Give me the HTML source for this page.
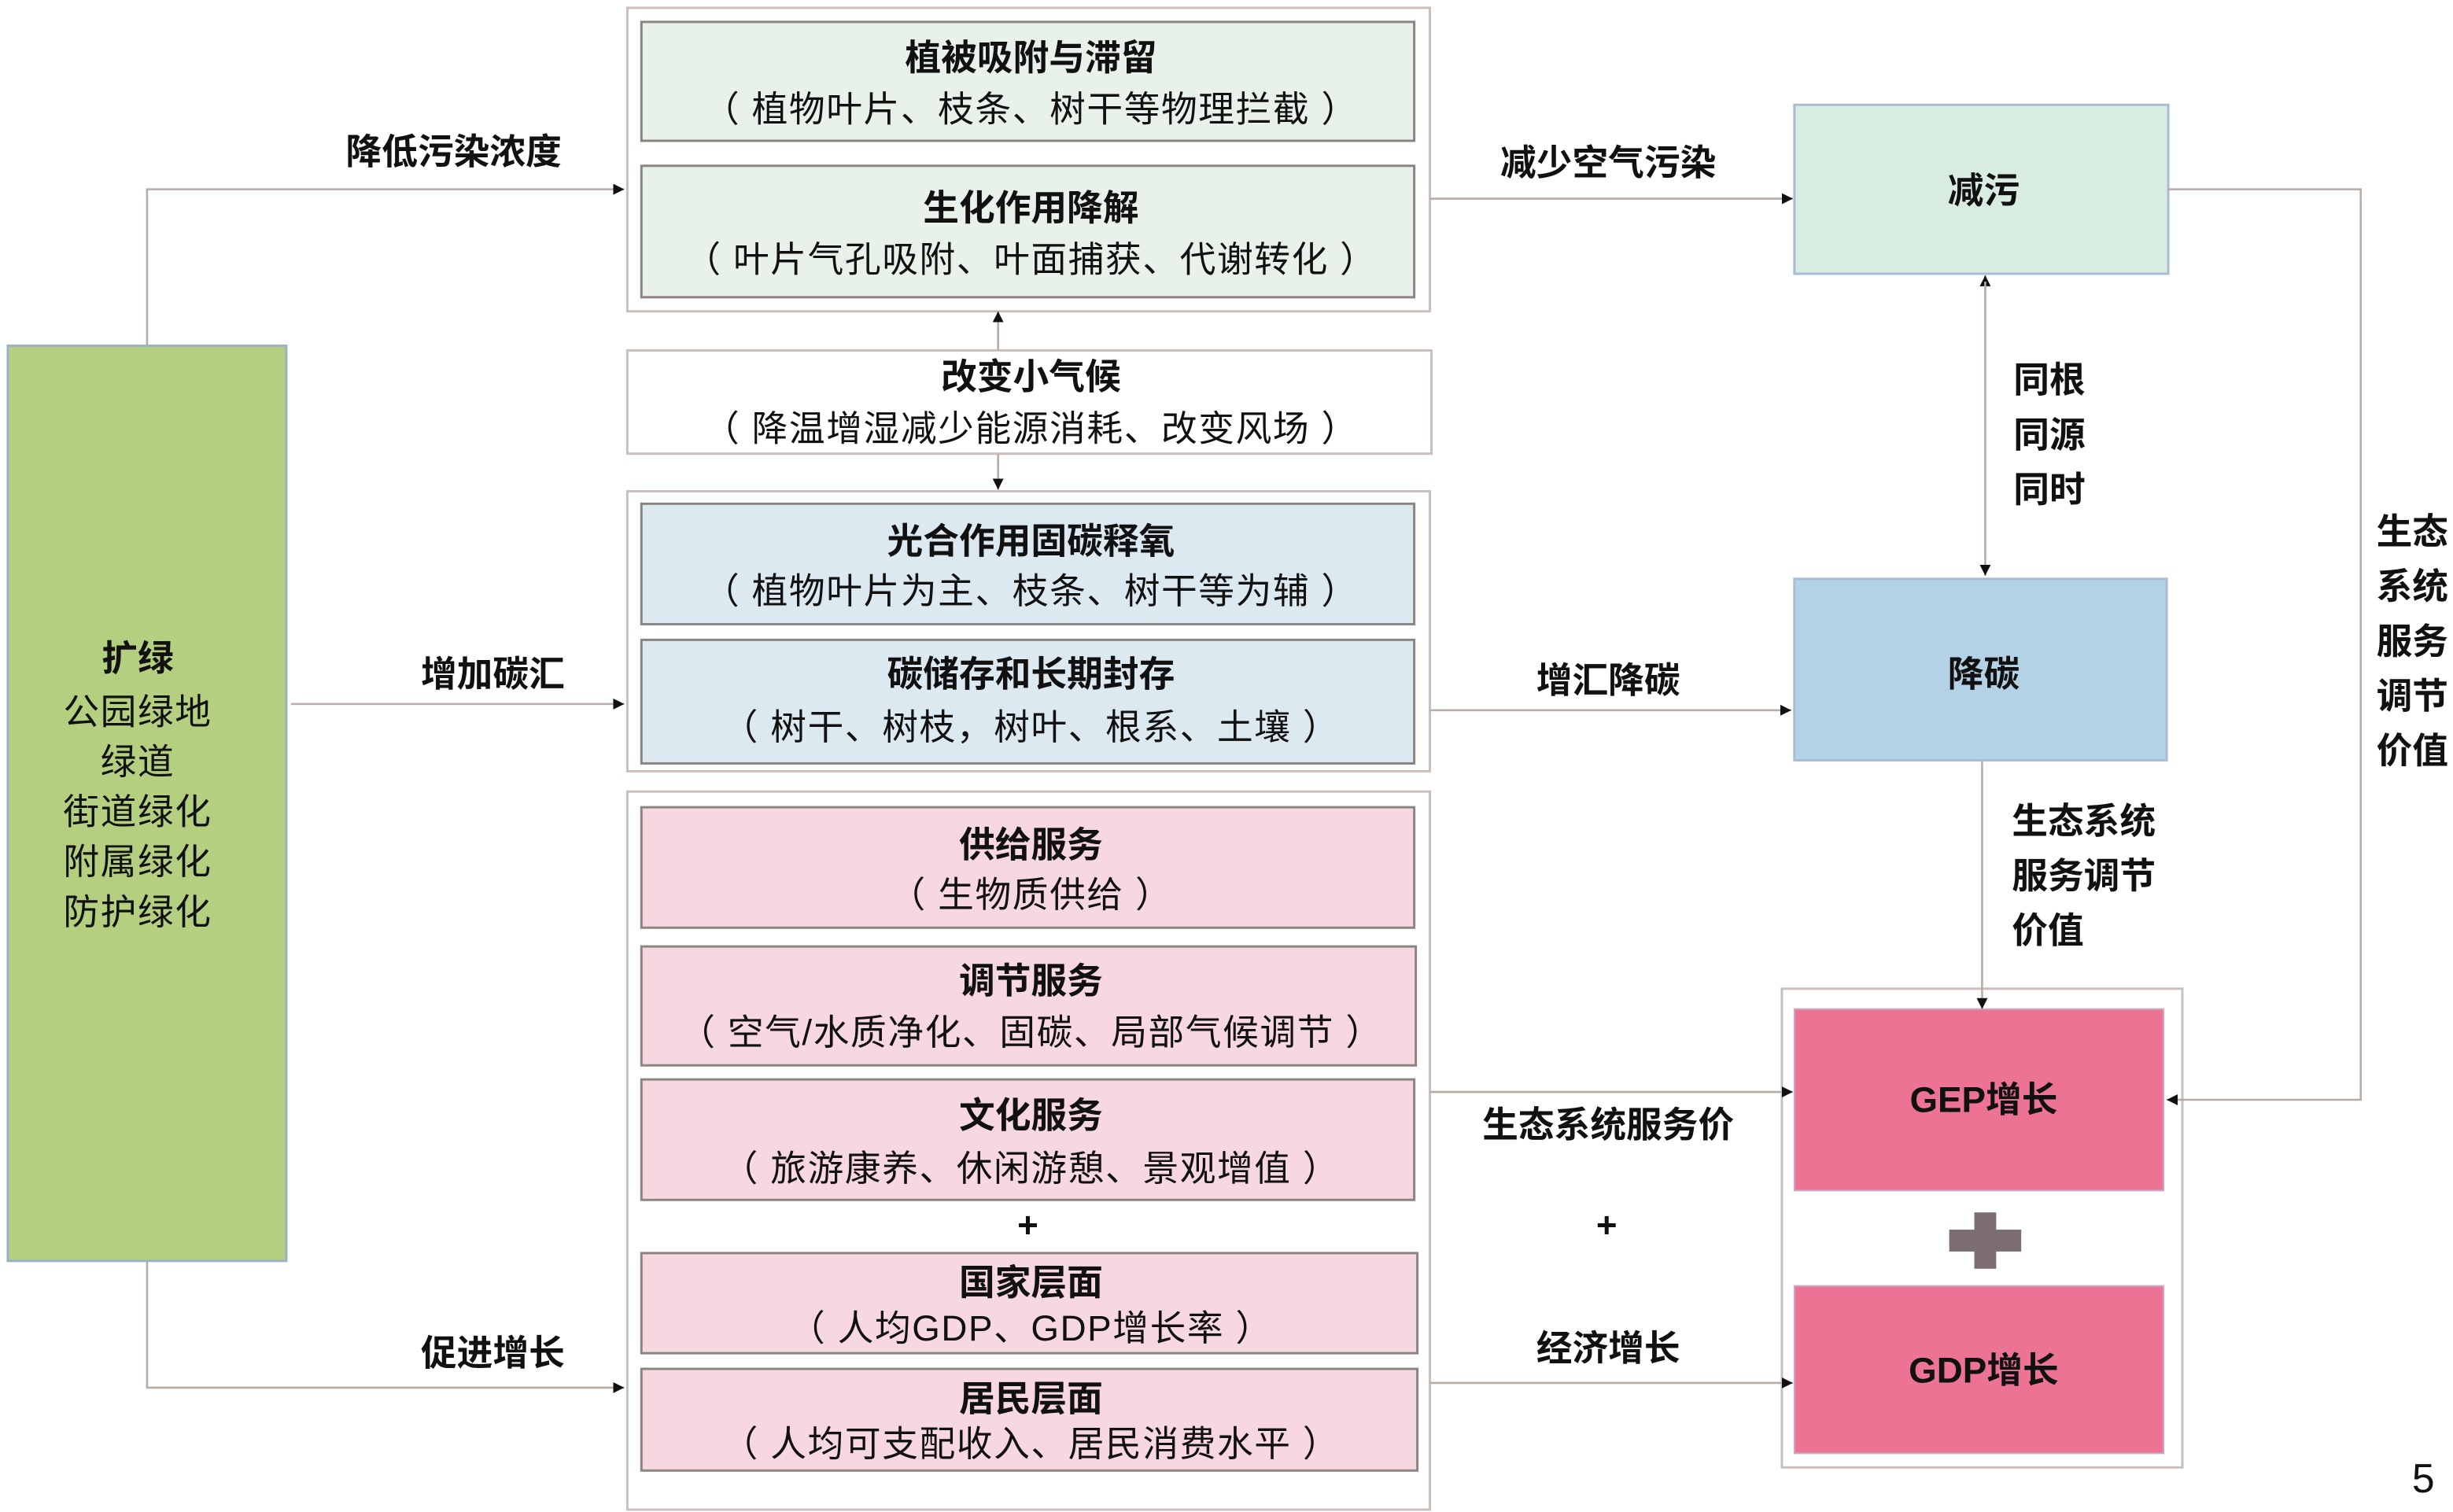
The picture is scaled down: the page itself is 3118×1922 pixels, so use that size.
<!DOCTYPE html>
<html><head><meta charset="utf-8"><style>
html,body{margin:0;padding:0;background:#fff;width:3118px;height:1922px;overflow:hidden}
svg{display:block}
text{font-family:"Liberation Sans","Noto Sans CJK SC",sans-serif;fill:#111;dominant-baseline:central;text-anchor:middle}
.b{font-weight:bold;font-size:23px}
.n{font-size:23px;letter-spacing:0.8px}
.l{font-weight:bold;font-size:23px}
</style></head><body>
<svg width="3118" height="1922" viewBox="0 0 1568 966.5" preserveAspectRatio="none" xmlns="http://www.w3.org/2000/svg">
<defs><marker id="a" markerWidth="8" markerHeight="8" refX="7" refY="4" orient="auto" markerUnits="userSpaceOnUse"><path d="M0,0.5 L7,4 L0,7.5z" fill="#111"/></marker></defs>
<!-- green -->
<rect x="5" y="221" width="178" height="585" fill="#b4cf80" stroke="#9cb0c8" stroke-width="1.5"/>
<text x="88" y="421" class="b">扩绿</text>
<text x="88" y="455" class="n">公园绿地</text>
<text x="88" y="487" class="n">绿道</text>
<text x="88" y="519" class="n">街道绿化</text>
<text x="88" y="551" class="n">附属绿化</text>
<text x="88" y="583" class="n">防护绿化</text>
<g stroke="#c9c0bb" stroke-width="1.5" fill="#fff">
<rect x="401" y="5" width="513" height="194"/>
<rect x="401" y="224" width="514" height="66"/>
<rect x="401" y="314" width="513" height="179"/>
<rect x="401" y="506" width="513" height="459"/>
<rect x="1139" y="632" width="256" height="306"/>
</g>
<g stroke="#8c8480" stroke-width="1.5">
<rect x="410" y="14" width="494" height="76" fill="#e8f1ea"/>
<rect x="410" y="106" width="494" height="84" fill="#e8f1ea"/>
<rect x="410" y="322" width="494" height="77" fill="#dde9f0"/>
<rect x="410" y="409" width="494" height="79" fill="#dde9f0"/>
<rect x="410" y="516" width="494" height="77" fill="#f7d7e0"/>
<rect x="410" y="605" width="495" height="76" fill="#f7d7e0"/>
<rect x="410" y="690" width="494" height="77" fill="#f7d7e0"/>
<rect x="410" y="801" width="496" height="64" fill="#f7d7e0"/>
<rect x="410" y="875" width="496" height="65" fill="#f7d7e0"/>
</g>
<rect x="1147" y="67" width="239" height="108" fill="#d8ece1" stroke="#a8bcd6" stroke-width="1.5"/>
<rect x="1147" y="370" width="238" height="116" fill="#b4d2e6" stroke="#a8bcd6" stroke-width="1.5"/>
<rect x="1147" y="645" width="236" height="116" fill="#ec7394" stroke="#c9a8c8" stroke-width="1"/>
<rect x="1147" y="822" width="236" height="107" fill="#ec7394" stroke="#c9a8c8" stroke-width="1"/>
<rect x="1246" y="786" width="46" height="14" fill="#7b6d72"/>
<rect x="1262" y="775" width="14" height="36" fill="#7b6d72"/>
<g fill="none" stroke="#b8aca6" stroke-width="1.3">
<polyline points="94,221 94,121 399,121" marker-end="url(#a)"/>
<line x1="186" y1="450" x2="399" y2="450" marker-end="url(#a)"/>
<polyline points="94,806 94,887 399,887" marker-end="url(#a)"/>
<line x1="914" y1="127" x2="1146" y2="127" marker-end="url(#a)"/>
<line x1="914" y1="454" x2="1145" y2="454" marker-end="url(#a)"/>
<line x1="914" y1="698" x2="1146" y2="698" marker-end="url(#a)"/>
<line x1="914" y1="884" x2="1146" y2="884" marker-end="url(#a)"/>
<line x1="1269" y1="185" x2="1269" y2="176" marker-end="url(#a)"/>
<line x1="1269" y1="180" x2="1269" y2="368" marker-end="url(#a)"/>
<line x1="1267" y1="486" x2="1267" y2="645" marker-end="url(#a)"/>
<polyline points="1386,121 1509,121 1509,703 1385,703" marker-end="url(#a)"/>
<line x1="638" y1="224" x2="638" y2="199" marker-end="url(#a)"/>
<line x1="638" y1="290" x2="638" y2="313" marker-end="url(#a)"/>
</g>

<text x="659" y="37" class="b">植被吸附与滞留</text>
<text x="659" y="70" class="n">（ 植物叶片、枝条、树干等物理拦截 ）</text>
<text x="659" y="133" class="b">生化作用降解</text>
<text x="659" y="166" class="n">（ 叶片气孔吸附、叶面捕获、代谢转化 ）</text>
<text x="659" y="241" class="b">改变小气候</text>
<text x="659" y="274" class="n">（ 降温增湿减少能源消耗、改变风场 ）</text>
<text x="659" y="346" class="b">光合作用固碳释氧</text>
<text x="659" y="378" class="n">（ 植物叶片为主、枝条、树干等为辅 ）</text>
<text x="659" y="431" class="b">碳储存和长期封存</text>
<text x="659" y="465" class="n">（ 树干、树枝，树叶、根系、土壤 ）</text>
<text x="659" y="540" class="b">供给服务</text>
<text x="659" y="572" class="n">（ 生物质供给 ）</text>
<text x="659" y="627" class="b">调节服务</text>
<text x="659" y="660" class="n">（ 空气/水质净化、固碳、局部气候调节 ）</text>
<text x="659" y="713" class="b">文化服务</text>
<text x="659" y="747" class="n">（ 旅游康养、休闲游憩、景观增值 ）</text>
<text x="657" y="783" class="b">+</text>
<text x="659" y="820" class="b">国家层面</text>
<text x="659" y="849" class="n">（ 人均GDP、GDP增长率 ）</text>
<text x="659" y="894" class="b">居民层面</text>
<text x="659" y="923" class="n">（ 人均可支配收入、居民消费水平 ）</text>

<text x="290" y="97" class="l">降低污染浓度</text>
<text x="315" y="431" class="l">增加碳汇</text>
<text x="315" y="865" class="l">促进增长</text>
<text x="1028" y="104" class="l">减少空气污染</text>
<text x="1028" y="435" class="l">增汇降碳</text>
<text x="1028" y="719" class="l">生态系统服务价</text>
<text x="1027" y="783" class="l">+</text>
<text x="1028" y="862" class="l">经济增长</text>
<text x="1268" y="122" class="b">减污</text>
<text x="1268" y="431" class="b">降碳</text>
<text x="1268" y="703" class="b">GEP增长</text>
<text x="1268" y="876" class="b">GDP增长</text>
<text x="1310" y="243" class="l">同根</text>
<text x="1310" y="278" class="l">同源</text>
<text x="1310" y="313" class="l">同时</text>
<text x="1286" y="525" class="l" style="text-anchor:start">生态系统</text>
<text x="1286" y="560" class="l" style="text-anchor:start">服务调节</text>
<text x="1286" y="595" class="l" style="text-anchor:start">价值</text>
<text x="1542" y="340" class="l">生态</text>
<text x="1542" y="375" class="l">系统</text>
<text x="1542" y="410" class="l">服务</text>
<text x="1542" y="445" class="l">调节</text>
<text x="1542" y="480" class="l">价值</text>
<text x="1549" y="945" style="font-size:26px">5</text>
</svg>
</body></html>
